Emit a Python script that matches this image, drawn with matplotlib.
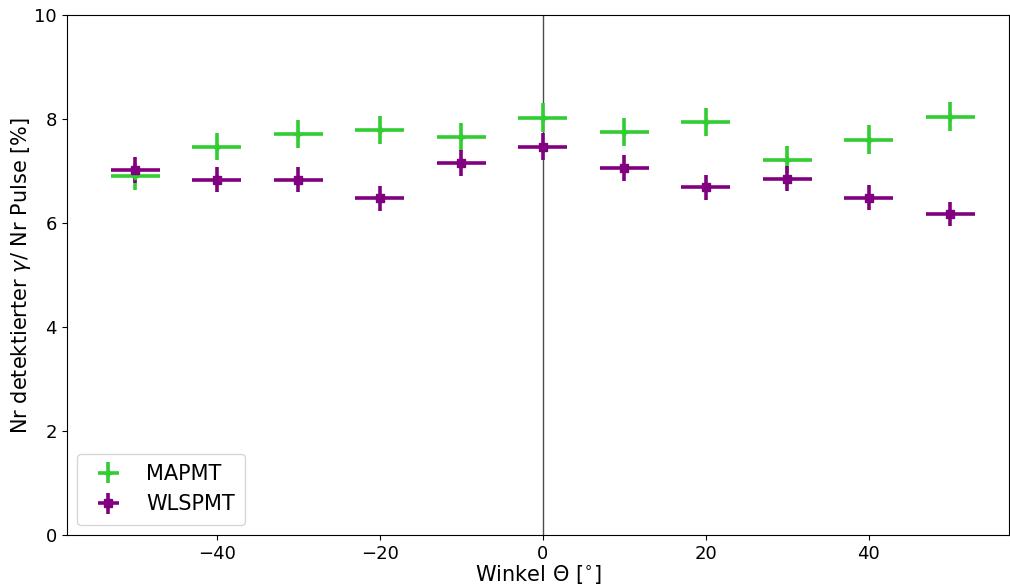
import numpy as np
import matplotlib.pyplot as plt

winkel = np.array([-50, -40, -30, -20, -10, 0, 10, 20, 30, 40, 50])
mapmt = np.array([6.90, 7.47, 7.72, 7.80, 7.66, 8.03, 7.76, 7.95, 7.22, 7.61, 8.05])
mapmt_err = np.array([0.26, 0.26, 0.27, 0.27, 0.27, 0.28, 0.27, 0.27, 0.26, 0.27, 0.28])
wlspmt = np.array([7.03, 6.84, 6.84, 6.48, 7.16, 7.47, 7.07, 6.69, 6.86, 6.49, 6.17])
wlspmt_err = np.array([0.25, 0.24, 0.24, 0.24, 0.25, 0.26, 0.25, 0.24, 0.24, 0.24, 0.23])
x_err = 3

fig, ax = plt.subplots(figsize=(10.1, 5.85), dpi=100)
ax.axvline(0, color='black', lw=1, alpha=0.7)
ax.errorbar(winkel, mapmt, xerr=x_err, yerr=mapmt_err, fmt='P', color='limegreen',
            markersize=4, elinewidth=2.6, label='MAPMT')
ax.errorbar(winkel, wlspmt, xerr=x_err, yerr=wlspmt_err, fmt='s', color='purple',
            markersize=6, elinewidth=2.6, label='WLSPMT')
ax.set_xlim(-58.4, 57.2)
ax.set_ylim(0, 10)
ax.set_xlabel(r'Winkel $\Theta$ [$^{\circ}$]', fontsize=15, labelpad=0)
ax.set_ylabel(r'Nr detektierter $\gamma$/ Nr Pulse [%]', fontsize=15, labelpad=1)
ax.tick_params(labelsize=13)
ax.legend(loc='lower left', fontsize=15, borderpad=0.5, handletextpad=0.8)
fig.subplots_adjust(left=0.066, right=0.999, top=0.974, bottom=0.085)
fig.savefig('out.png')
